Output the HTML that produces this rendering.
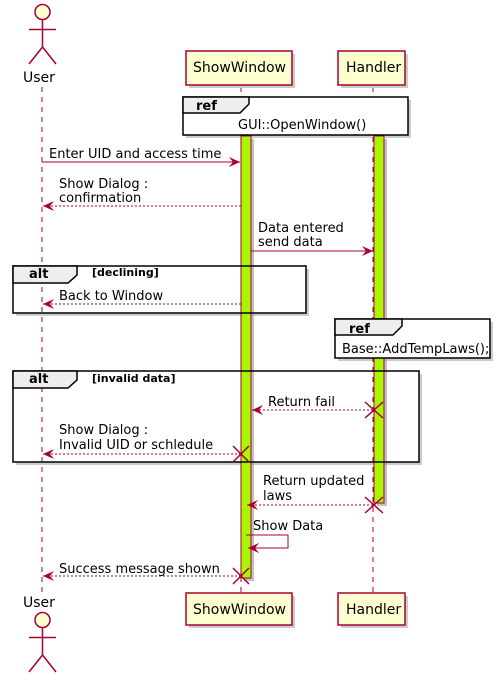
<!DOCTYPE html>
<html><head><meta charset="utf-8"><style>
html,body{margin:0;padding:0;background:#fff;width:499px;height:681px;overflow:hidden}
text{font-family:"DejaVu Sans","Liberation Sans",sans-serif;font-size:13px;fill:#000}
.b{font-weight:bold}
.p{font-size:14px}
</style></head><body>
<svg width="499" height="681" viewBox="0 0 499 681" xmlns="http://www.w3.org/2000/svg">
<defs>
<marker id="ah" markerWidth="12" markerHeight="10" refX="11" refY="5" orient="auto" markerUnits="userSpaceOnUse">
<path d="M0,0 L11,5 L0,10 L4,5 Z" fill="#A80036"/></marker>
</defs>
<!-- frame shadows (edges only) -->
<g fill="#ccc">
<rect x="408" y="100" width="3" height="38"/><rect x="186" y="135" width="225" height="3"/>
<rect x="306" y="269" width="3" height="47"/><rect x="16" y="313" width="293" height="3"/>
<rect x="490" y="322" width="3" height="39"/><rect x="338" y="358" width="155" height="3"/>
<rect x="419" y="374" width="3" height="91"/><rect x="16" y="462" width="406" height="3"/>
</g>
<!-- lifelines -->
<g stroke="#A80036" stroke-width="1" stroke-dasharray="5,5" fill="none">
<line x1="42" y1="87" x2="42" y2="593"/>
<line x1="241" y1="87" x2="241" y2="593"/>
<line x1="373" y1="87" x2="373" y2="593"/>
</g>
<!-- activations -->
<rect x="244" y="139" width="10" height="442" fill="#999" opacity="0.6"/>
<rect x="241" y="136" width="10" height="442" fill="#A9F600" stroke="#A80036"/>
<rect x="377" y="139" width="10" height="367" fill="#999" opacity="0.6"/>
<rect x="374" y="136" width="10" height="367" fill="#A9F600" stroke="#A80036"/>
<!-- participants -->
<g fill="#ccc">
<rect x="189" y="54" width="106" height="34"/><rect x="341" y="54" width="67" height="34"/>
<rect x="189" y="596" width="106" height="32"/><rect x="341" y="596" width="67" height="32"/>
</g>
<g stroke="#A80036" stroke-width="1.5" fill="#FEFECE">
<rect x="186" y="51" width="106" height="34"/>
<rect x="338" y="51" width="67" height="34"/>
<rect x="186" y="593" width="106" height="32"/>
<rect x="338" y="593" width="67" height="32"/>
</g>
<text x="193" y="72" class="p">ShowWindow</text>
<text x="346" y="72" class="p">Handler</text>
<text x="193" y="614" class="p">ShowWindow</text>
<text x="346" y="614" class="p">Handler</text>
<!-- actors -->
<g stroke="#A80036" stroke-width="1.5" fill="none">
<circle cx="42.5" cy="12" r="7.5" fill="#FEFECE"/>
<path d="M42.5 20 V47 M29 29.5 H56 M29 64 L42.5 47 L56 64"/>
<circle cx="42.5" cy="620" r="7.5" fill="#FEFECE"/>
<path d="M42.5 628 V655 M29 637.5 H56 M29 672 L42.5 655 L56 672"/>
</g>
<text x="23" y="82" class="p">User</text>
<text x="23" y="607" class="p">User</text>
<!-- ref 1 -->
<rect x="183" y="97" width="225" height="38" fill="#fff" stroke="#000" stroke-width="1.5"/>
<path d="M183 97 H249 V104 L240 113 H183 Z" fill="#EEE" stroke="#000" stroke-width="1.5"/>
<text x="196" y="110" class="b">ref</text>
<text x="238" y="129">GUI::OpenWindow()</text>
<!-- alt declining -->
<rect x="13" y="266" width="293" height="47" fill="none" stroke="#000" stroke-width="1.5"/>
<path d="M13 266 H77 V275 L68 283 H13 Z" fill="#EEE" stroke="#000" stroke-width="1.5"/>
<text x="29" y="278" class="b">alt</text>
<text x="92" y="276" class="b" style="font-size:11px">[declining]</text>
<!-- ref 2 -->
<rect x="335" y="319" width="155" height="39" fill="#fff" stroke="#000" stroke-width="1.5"/>
<path d="M335 319 H402 V326 L393 335 H335 Z" fill="#EEE" stroke="#000" stroke-width="1.5"/>
<text x="349" y="333" class="b">ref</text>
<text x="342" y="353">Base::AddTempLaws();</text>
<!-- alt invalid -->
<rect x="13" y="371" width="406" height="91" fill="none" stroke="#000" stroke-width="1.5"/>
<path d="M13 371 H77 V380 L68 388 H13 Z" fill="#EEE" stroke="#000" stroke-width="1.5"/>
<text x="29" y="383" class="b">alt</text>
<text x="92" y="382" class="b" style="font-size:11px">[invalid data]</text>
<!-- msgs -->
<g stroke="#A80036" stroke-width="1" fill="none">
<line x1="42" y1="162" x2="240" y2="162" marker-end="url(#ah)"/>
<line x1="241" y1="206" x2="43" y2="206" stroke-dasharray="2,2" marker-end="url(#ah)"/>
<line x1="251" y1="251" x2="373" y2="251" marker-end="url(#ah)"/>
<line x1="241" y1="304" x2="43" y2="304" stroke-dasharray="2,2" marker-end="url(#ah)"/>
<line x1="373" y1="410" x2="252" y2="410" stroke-dasharray="2,2" marker-end="url(#ah)"/>
<line x1="241" y1="454" x2="43" y2="454" stroke-dasharray="2,2" marker-end="url(#ah)"/>
<line x1="373" y1="505" x2="247" y2="505" stroke-dasharray="2,2" marker-end="url(#ah)"/>
<path d="M246 535 H288 V548 H248" marker-end="url(#ah)"/>
<line x1="241" y1="576" x2="43" y2="576" stroke-dasharray="2,2" marker-end="url(#ah)"/>
</g>
<g stroke="#A80036" stroke-width="1.5">
<path d="M365 402 L383 418 M383 402 L365 418"/>
<path d="M233 446 L249 462 M249 446 L233 462"/>
<path d="M365 497 L383 513 M383 497 L365 513"/>
<path d="M233 568 L249 584 M249 568 L233 584"/>
</g>
<text x="49" y="158">Enter UID and access time</text>
<text x="59" y="188">Show Dialog :</text>
<text x="59" y="202">confirmation</text>
<text x="258" y="232">Data entered</text>
<text x="258" y="246">send data</text>
<text x="59" y="300">Back to Window</text>
<text x="268" y="406">Return fail</text>
<text x="59" y="434">Show Dialog :</text>
<text x="59" y="449">Invalid UID or schledule</text>
<text x="263" y="485">Return updated</text>
<text x="263" y="500">laws</text>
<text x="253" y="530">Show Data</text>
<text x="59" y="573">Success message shown</text>
</svg>
</body></html>
